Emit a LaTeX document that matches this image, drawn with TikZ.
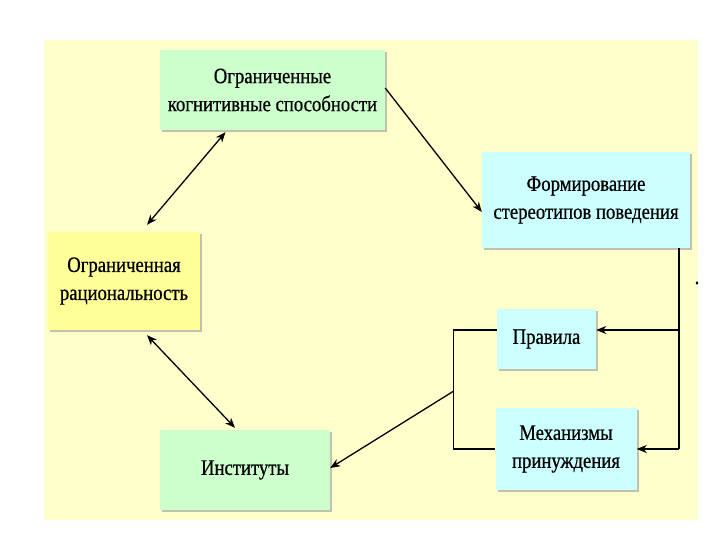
\documentclass[tikz,border=0pt]{standalone}
\usepackage{fontspec}
\setmainfont{Liberation Serif}[FakeStretch=0.85,FakeBold=0.6]
\usetikzlibrary{arrows.meta,shadows,calc}
\definecolor{bg}{HTML}{FFFFCC}
\definecolor{gbox}{HTML}{CCFFCC}
\definecolor{cbox}{HTML}{CCFFFF}
\definecolor{ybox}{HTML}{FFFF99}
\begin{document}
\begin{tikzpicture}[x=1pt,y=-1pt,
  box/.style={inner sep=0pt, align=center, font=\fontsize{22}{28}\selectfont,
    drop shadow={shadow xshift=2pt, shadow yshift=-2pt, fill=black!40, opacity=0.6}},
  arr/.style={-{Stealth[length=10pt,width=8pt,inset=3pt]}, line width=1.3pt},
  darr/.style={{Stealth[length=10pt,width=8pt,inset=3pt]}-{Stealth[length=10pt,width=8pt,inset=3pt]}, line width=1.3pt},
  ln/.style={line width=1.3pt}]
\useasboundingbox (0,0) rectangle (720,540);
\fill[bg] (44,40) rectangle (698,520);

\node[box, fill=gbox, minimum width=225pt, minimum height=80pt] (og) at (272.5,90) {Ограниченные\\когнитивные способности};
\node[box, fill=cbox, minimum width=208pt, minimum height=96pt] (cf) at (586,200) {Формирование\\стереотипов поведения};
\node[box, fill=ybox, minimum width=152pt, minimum height=98pt] (yr) at (124,281) {Ограниченная\\рациональность};
\node[box, fill=cbox, minimum width=99pt, minimum height=60pt] (pr) at (546.5,339) {Правила};
\node[box, fill=cbox, minimum width=141pt, minimum height=82pt] (me) at (566,449) {Механизмы\\принуждения};
\node[box, fill=gbox, minimum width=170pt, minimum height=80pt] (inst) at (245,470) {Институты};
\node[inner sep=0pt, font=\fontsize{22}{28}\selectfont] (dot) at (697,283) {.};

\draw[darr] ([xshift=-47pt,yshift=-2pt]og.south) -- ([xshift=23pt,yshift=7pt]yr.north);
\draw[arr] ([yshift=2pt]og.east) -- ([yshift=-12pt]cf.west);
\coordinate (cfb) at ([xshift=93pt]cf.south);
\coordinate (pre) at ([yshift=9pt]pr.east);
\draw[ln] (cfb) -- (cfb |- me.east);
\draw[arr] (cfb |- me.east) -- (me.east);
\draw[arr] (cfb |- pre) -- (pre);
\draw[ln] ([yshift=9pt]pr.west) -- ++(-43,0) coordinate (bt) |- (me.west);
\coordinate (bm) at ($(bt)+(0,61)$);
\draw[arr] (bm) -- ([yshift=2pt]inst.east);
\draw[darr] ([xshift=23pt,yshift=-5pt]yr.south) -- ([xshift=-10pt,yshift=2pt]inst.north);
\end{tikzpicture}
\end{document}
